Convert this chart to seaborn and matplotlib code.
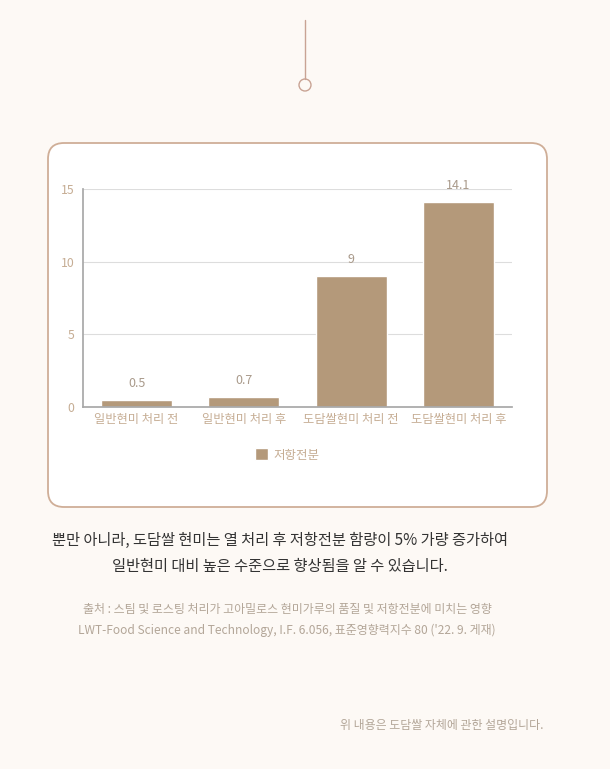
import matplotlib
matplotlib.use("Agg")
import matplotlib.pyplot as plt
import seaborn as sns
import pandas as pd
from matplotlib.patches import FancyBboxPatch, Circle
from matplotlib.lines import Line2D

categories = ["일반현미 처리 전", "일반현미 처리 후", "도담쌀현미 처리 전", "도담쌀현미 처리 후"]
values = [0.5, 0.7, 9, 14.1]
value_labels = ["0.5", "0.7", "9", "14.1"]
series_name = "저항전분"
yticks = [0, 5, 10, 15]

sns.set_theme(style="white")
plt.rcParams['font.family'] = ['Noto Sans CJK KR', 'DejaVu Sans']

W, H = 610, 769
BG = "#fdf9f5"
BAR = "#b4997a"
TICK = "#c6ad94"
fig = plt.figure(figsize=(W / 100, H / 100), dpi=100, facecolor=BG)

# background decorations in pixel coordinates
bg = fig.add_axes([0, 0, 1, 1], zorder=0)
bg.set_xlim(0, W)
bg.set_ylim(H, 0)
bg.axis("off")
bg.add_line(Line2D([305, 305], [20, 79], color="#c9a394", lw=1))
bg.add_patch(Circle((305, 85), 6, facecolor=BG, edgecolor="#c9a394", lw=1))
bg.add_patch(FancyBboxPatch((48, 143), 499, 364, boxstyle="round,pad=0,rounding_size=16",
                            facecolor="white", edgecolor="#cfae97", lw=1.3))

ax = fig.add_axes([83 / W, 1 - 407 / H, (512 - 83) / W, (407 - 189) / H], zorder=2)
ax.set_facecolor("none")
df = pd.DataFrame({"cat": categories, "val": values, "series": [series_name] * len(values)})
sns.barplot(data=df, x="cat", y="val", hue="series", palette=[BAR], width=0.66,
            ax=ax, saturation=1, legend=True)
ax.set_ylim(0, 15)
ax.set_xlim(-0.5, 3.5)
ax.set_yticks(yticks)
ax.set_yticklabels([str(t) for t in yticks])
ax.set_xlabel("")
ax.set_ylabel("")
ax.yaxis.grid(True, color="#dddddd", lw=0.8)
ax.set_axisbelow(True)
for s in ["top", "right"]:
    ax.spines[s].set_visible(False)
ax.spines["left"].set_color("#a8a8a8")
ax.spines["bottom"].set_color("#a8a8a8")
ax.tick_params(axis="both", length=0, labelsize=8.8, labelcolor=TICK)
ax.tick_params(axis="x", pad=4)
ax.tick_params(axis="y", pad=6)

for i, (v, lab) in enumerate(zip(values, value_labels)):
    ax.annotate(lab, (i, v), xytext=(0, 7), textcoords="offset points",
                ha="center", va="bottom", fontsize=9, color="#a99a8b")

leg = ax.legend(loc="center", bbox_to_anchor=(287 / W, 1 - 455 / H),
                bbox_transform=fig.transFigure, frameon=False, fontsize=9,
                handlelength=1.1, handleheight=1.1, handletextpad=0.4)
for t in leg.get_texts():
    t.set_color(TICK)

fig.text(280 / W, 1 - 540 / H, "뿐만 아니라, 도담쌀 현미는 열 처리 후 저항전분 함량이 5% 가량 증가하여",
         ha="center", va="center", fontsize=11, color="#333333", fontweight="medium")
fig.text(280 / W, 1 - 566 / H, "일반현미 대비 높은 수준으로 향상됨을 알 수 있습니다.",
         ha="center", va="center", fontsize=11, color="#333333", fontweight="medium")
fig.text(287 / W, 1 - 609 / H, "출처 : 스팀 및 로스팅 처리가 고아밀로스 현미가루의 품질 및 저항전분에 미치는 영향",
         ha="center", va="center", fontsize=8.6, color="#b3a698")
fig.text(287 / W, 1 - 630 / H, "LWT-Food Science and Technology, I.F. 6.056, 표준영향력지수 80 ('22. 9. 게재)",
         ha="center", va="center", fontsize=8.6, color="#b3a698")
fig.text(543 / W, 1 - 725 / H, "위 내용은 도담쌀 자체에 관한 설명입니다.",
         ha="right", va="center", fontsize=8.6, color="#b3a698")

fig.savefig("out.png", dpi=100, facecolor=BG)
